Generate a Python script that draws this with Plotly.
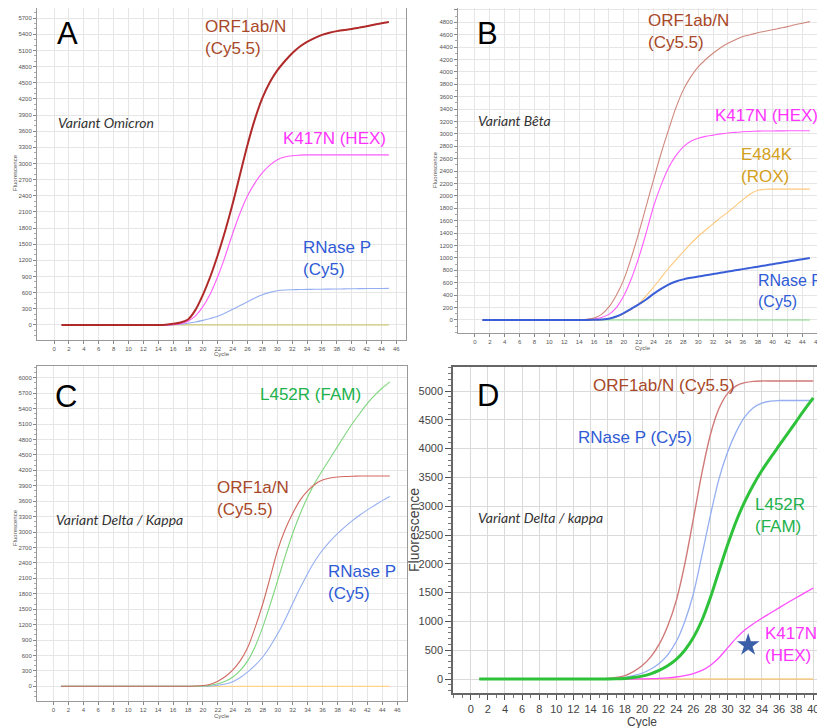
import plotly.graph_objects as go

# page body has an 8px margin: figure is placed at (8, 8)
OFF = 8
W, H = 825 - OFF, 728 - OFF

# ---------------- data ----------------
cyc45 = list(range(1, 46))
cyc40 = list(range(1, 41))

# Panel A - Variant Omicron
A_orf = [0,0,0,0,0,0,0,0,0,0,0,0,0,0,5,20,45,100,280,560,900,1300,1750,2250,2800,3350,3830,4220,4510,4730,4900,5050,5170,5260,5330,5390,5430,5460,5480,5500,5525,5550,5580,5605,5630]
A_k417n = [0,0,0,0,0,0,0,0,0,0,0,0,0,0,0,5,25,70,170,340,580,900,1280,1700,2080,2400,2640,2830,2970,3070,3120,3145,3155,3160,3160,3160,3160,3160,3160,3160,3160,3160,3160,3160,3160]
A_rnase = [0,0,0,0,0,0,0,0,0,0,0,0,0,0,0,5,15,30,55,85,120,160,220,290,360,430,500,560,605,635,650,655,658,660,662,664,666,668,670,672,674,676,677,678,680]
A_flat = [0,0,0,0,0,0,0,0,0,0,0,0,0,0,0,0,0,0,0,0,0,0,0,0,0,0,0,0,0,0,0,0,0,0,0,0,0,0,0,0,0,0,0,0,0]

# Panel B - Variant Beta
B_orf = [0,0,0,0,0,0,0,0,0,0,0,0,0,5,12,30,90,210,400,650,1000,1400,1830,2260,2680,3060,3420,3710,3920,4080,4200,4300,4390,4460,4520,4570,4600,4630,4655,4680,4705,4730,4760,4785,4810]
B_k417n = [0,0,0,0,0,0,0,0,0,0,0,0,0,0,5,15,40,90,200,390,660,1000,1400,1830,2170,2450,2650,2790,2880,2930,2960,2980,3000,3015,3025,3035,3040,3045,3047,3048,3049,3050,3050,3050,3050]
B_e484k = [0,0,0,0,0,0,0,0,0,0,0,0,0,0,0,0,0,20,50,100,170,260,390,530,680,830,970,1100,1230,1350,1450,1550,1650,1740,1840,1940,2030,2090,2108,2110,2110,2110,2110,2110,2110]
B_rnase = [0,0,0,0,0,0,0,0,0,0,0,0,0,0,0,3,8,20,55,110,180,250,330,420,500,570,620,655,680,700,720,740,760,780,800,820,840,860,880,900,920,940,960,980,1000]
B_flat = [0,0,0,0,0,0,0,0,0,0,0,0,0,0,0,0,0,0,0,0,0,0,0,0,0,0,0,0,0,0,0,0,0,0,0,0,0,0,0,0,0,0,0,0,0]

# Panel C - Variant Delta / Kappa
C_orf = [0,0,0,0,0,0,0,0,0,0,0,0,0,0,0,0,0,0,5,15,40,100,190,320,500,760,1150,1600,2120,2650,3050,3360,3620,3800,3930,4010,4050,4070,4080,4085,4088,4090,4090,4090,4090]
C_l452r = [0,0,0,0,0,0,0,0,0,0,0,0,0,0,0,0,0,0,0,5,20,50,100,180,310,500,780,1150,1590,2060,2530,2970,3350,3680,3960,4200,4430,4660,4890,5110,5310,5500,5660,5800,5920]
C_rnase = [0,0,0,0,0,0,0,0,0,0,0,0,0,0,0,0,0,0,0,0,5,20,45,90,170,280,410,570,780,1020,1300,1610,1910,2190,2440,2650,2820,2970,3100,3220,3330,3430,3520,3610,3690]
C_flat = [0,0,0,0,0,0,0,0,0,0,0,0,0,0,0,0,0,0,0,0,0,0,0,0,0,0,0,0,0,0,0,0,0,0,0,0,0,0,0,0,0,0,0,0,0]

# Panel D - Variant Delta / kappa
D_orf = [0,0,0,0,0,0,0,0,0,0,0,0,0,0,3,10,25,60,130,230,380,600,920,1360,2000,2780,3580,4250,4700,4960,5090,5145,5168,5175,5175,5175,5175,5175,5175,5175]
D_rnase = [0,0,0,0,0,0,0,0,0,0,0,0,0,0,0,4,12,30,60,100,170,270,420,650,1000,1480,2150,2850,3480,3940,4290,4550,4710,4790,4825,4835,4835,4835,4835,4835]
D_l452r = [0,0,0,0,0,0,0,0,0,0,0,0,0,0,0,0,3,10,25,50,90,150,230,340,500,720,1020,1420,1880,2330,2740,3080,3370,3620,3840,4050,4260,4470,4680,4880]
D_k417n = [0,0,0,0,0,0,0,0,0,0,0,0,0,0,0,0,0,0,0,2,5,10,20,35,60,95,150,240,370,540,710,850,960,1055,1145,1235,1325,1410,1495,1580]
D_flat = [0,0,0,0,0,0,0,0,0,0,0,0,0,0,0,0,0,0,0,0,0,0,0,0,0,0,0,0,0,0,0,0,0,0,0,0,0,0,0,0]
D_star_x = [32.4]
D_star_y = [590]

A_yticks = list(range(0, 5701, 300))
B_yticks = list(range(0, 5001, 200))
C_yticks = list(range(0, 6001, 300))
D_yticks = list(range(0, 5001, 500))
ABC_xticks = list(range(0, 47, 2))
D_xticks = list(range(0, 41, 2))

# ---------------- helpers (reference pixel -> paper) ----------------
def PX(p):
    return (p - OFF) / W

def PY(p):
    return 1 - (p - OFF) / H

def clamp(v):
    return max(0.0, min(1.0, v))

def xdom(a, b):
    return [clamp(PX(a)), clamp(PX(b))]

def ydom(top, bottom):
    return [clamp(PY(bottom)), clamp(PY(top))]

# ---------------- figure ----------------
fig = go.Figure()

def line(x, y, color, width, xa, ya):
    fig.add_trace(go.Scatter(x=x, y=y, mode="lines",
                             line=dict(color=color, width=width, shape="spline", smoothing=0.9),
                             xaxis=xa, yaxis=ya, showlegend=False, hoverinfo="skip"))

# A
line(cyc45, A_flat, "#CFC878", 1.2, "x", "y")
line(cyc45, A_rnase, "#94AEF2", 1.1, "x", "y")
line(cyc45, A_k417n, "#FF5CFF", 1.1, "x", "y")
line(cyc45, A_orf, "#B02A2A", 2.0, "x", "y")
# B
line(cyc45, B_flat, "#86D886", 1.1, "x2", "y2")
line(cyc45, B_e484k, "#FFC77A", 1.1, "x2", "y2")
line(cyc45, B_k417n, "#FF5CFF", 1.1, "x2", "y2")
line(cyc45, B_orf, "#D0877C", 1.1, "x2", "y2")
line(cyc45, B_rnase, "#3A5ED8", 2.0, "x2", "y2")
# C
line(cyc45, C_flat, "#FFD28E", 1.3, "x3", "y3")
line(cyc45, C_rnase, "#94AEF2", 1.1, "x3", "y3")
line(cyc45, C_l452r, "#7ED67E", 1.1, "x3", "y3")
line(cyc45, C_orf, "#D06A60", 1.1, "x3", "y3")
# D
line(cyc40, D_flat, "#FFB84D", 1.2, "x4", "y4")
line(cyc40, D_k417n, "#FF4CFF", 1.3, "x4", "y4")
line(cyc40, D_rnase, "#94AEF2", 1.3, "x4", "y4")
line(cyc40, D_orf, "#D07A78", 1.4, "x4", "y4")
line(cyc40, D_l452r, "#2DC23A", 3.0, "x4", "y4")
fig.add_trace(go.Scatter(x=D_star_x, y=D_star_y, mode="markers",
                         marker=dict(symbol="star", size=17, color="#3A5FA8", line=dict(width=0)),
                         xaxis="x4", yaxis="y4", showlegend=False, hoverinfo="skip"))

small_font = dict(family="Liberation Sans, Arial", size=6, color="#555")

def small_x(dom, rng):
    return dict(domain=dom, range=rng, tickvals=ABC_xticks, ticks="outside", ticklen=3, tickcolor="#888",
                tickfont=small_font, showline=True, linecolor="#999", linewidth=1, mirror=True,
                showgrid=True, gridcolor="#E6E6E6", gridwidth=1, zeroline=False, fixedrange=True,
                automargin=False)

def small_y(dom, rng, tv, minor_dt):
    return dict(domain=dom, range=rng, tickvals=tv, ticks="outside", ticklen=3, tickcolor="#888",
                tickfont=small_font, showline=True, linecolor="#999", linewidth=1, mirror=True,
                showgrid=True, gridcolor="#E6E6E6", gridwidth=1, zeroline=False, fixedrange=True,
                automargin=False,
                minor=dict(ticks="outside", ticklen=2, tickcolor="#AAA", dtick=minor_dt, showgrid=False))

A_xr, A_yr = [-2.3, 47.3], [-280, 5890]
B_xr, B_yr = [-2.28, 47.04], [-210, 5030]
C_xr, C_yr = [-2.2, 47.3], [-286, 6228]
D_xr, D_yr = [-2.07, 41.37], [-243, 5417]

fig.update_layout(
    template="none",
    width=W, height=H, margin=dict(l=0, r=0, t=0, b=0, pad=0), autosize=False,
    paper_bgcolor="white", plot_bgcolor="white", showlegend=False,
    xaxis=small_x(xdom(37, 406), A_xr),
    yaxis=small_y(ydom(8, 340), A_yr, A_yticks, 100),
    xaxis2=dict(small_x(xdom(458, 825), B_xr), anchor="y2"),
    yaxis2=dict(small_y(ydom(8, 333), B_yr, B_yticks, 100), anchor="x2"),
    xaxis3=dict(small_x(xdom(37, 407), C_xr), anchor="y3"),
    yaxis3=dict(small_y(ydom(366, 701), C_yr, C_yticks, 100), anchor="x3"),
    xaxis4=dict(domain=xdom(453, 825), range=D_xr, anchor="y4", tickvals=D_xticks,
                ticks="outside", ticklen=5, tickcolor="#555",
                tickfont=dict(family="Liberation Sans, Arial", size=11, color="#444"),
                showline=True, linecolor="#666", linewidth=1.5, mirror=True, showgrid=True, gridcolor="#DADADA",
                zeroline=False, fixedrange=True, automargin=False,
                minor=dict(ticks="outside", ticklen=3, tickcolor="#777", dtick=1, showgrid=False)),
    yaxis4=dict(domain=ydom(367, 693), range=D_yr, anchor="x4", tickvals=D_yticks,
                ticks="outside", ticklen=6, tickcolor="#555",
                tickfont=dict(family="Liberation Sans, Arial", size=11, color="#444"),
                showline=True, linecolor="#666", linewidth=1.5, mirror=True, showgrid=True, gridcolor="#DADADA",
                zeroline=False, fixedrange=True, automargin=False,
                minor=dict(ticks="outside", ticklen=3, tickcolor="#777", dtick=100, showgrid=False)),
)

# white boxes behind the panel letters (fractions of each plot area, converted to data units)
boxes = [("x", "y", A_xr, A_yr, 0.144, 0.15), ("x2", "y2", B_xr, B_yr, 0.147, 0.153),
         ("x3", "y3", C_xr, C_yr, 0.143, 0.16), ("x4", "y4", D_xr, D_yr, 0.153, 0.156)]
for xa, ya, xr, yr, fw, fh in boxes:
    fig.add_shape(type="rect", xref=xa, yref=ya,
                  x0=xr[0] + 0.003 * (xr[1] - xr[0]), x1=xr[0] + fw * (xr[1] - xr[0]),
                  y0=yr[1] - fh * (yr[1] - yr[0]), y1=yr[1] - 0.004 * (yr[1] - yr[0]),
                  fillcolor="white", line=dict(width=0), layer="below")

def ann(text, x, y, size, color, family="Liberation Sans, Arial", xanchor="left", italic=False, angle=0):
    if italic:
        text = "<i>" + text + "</i>"
    fig.add_annotation(text=text, xref="paper", yref="paper", x=PX(x), y=PY(y), showarrow=False,
                       xanchor=xanchor, yanchor="middle", align="left", textangle=angle,
                       borderpad=0, font=dict(family=family, size=size, color=color))

ORF = "#A84828"
HEX = "#FF33FF"
CY5 = "#2F5BD6"
ROX = "#D4A020"
FAM = "#22B24C"
VAR = "#333333"
VARF = "Lato, Open Sans"

# Panel letters
ann("A", 56, 34, 31, "black")
ann("B", 476, 34, 31, "black")
ann("C", 54, 396, 31, "black")
ann("D", 476, 395, 31, "black")

# Panel A labels
ann("ORF1ab/N<br>(Cy5.5)", 204, 38, 17, ORF)
ann("Variant Omicron", 57, 123, 14, VAR, family=VARF, italic=True)
ann("K417N (HEX)", 282, 138, 17, HEX)
ann("RNase P<br>(Cy5)", 302, 258, 17, CY5)

# Panel B labels
ann("ORF1ab/N<br>(Cy5.5)", 647, 32, 17, ORF)
ann("Variant Bêta", 477, 120, 14, VAR, family=VARF, italic=True)
ann("K417N (HEX)", 714, 115, 17, HEX)
ann("E484K<br>(ROX)", 740, 165, 17, ROX)
ann("RNase P<br>(Cy5)", 757, 291, 16, CY5)

# Panel C labels
ann("L452R (FAM)", 259, 394, 17, FAM)
ann("ORF1a/N<br>(Cy5.5)", 216, 498, 17, ORF)
ann("Variant Delta / Kappa", 55, 519, 14, VAR, family=VARF, italic=True)
ann("RNase P<br>(Cy5)", 327, 582, 17, CY5)

# Panel D labels
ann("ORF1ab/N (Cy5.5)", 592, 385, 17, ORF)
ann("RNase P (Cy5)", 577, 437, 17, CY5)
ann("Variant Delta / kappa", 477, 517, 14, VAR, family=VARF, italic=True)
ann("L452R<br>(FAM)", 754, 515, 17, FAM)
ann("K417N<br>(HEX)", 764, 644, 17, HEX)

# Axis titles
ann("Fluorescence", 15, 173, 6, "#555", xanchor="center", angle=-90)
ann("Cycle", 222, 354, 6, "#555", xanchor="center")
ann("Fluorescence", 435, 170, 6, "#555", xanchor="center", angle=-90)
ann("Cycle", 643, 348, 6, "#555", xanchor="center")
ann("Fluorescence", 15, 528, 6, "#555", xanchor="center", angle=-90)
ann("Cycle", 222, 716, 6, "#555", xanchor="center")
ann("Fluorescence", 414, 530, 14, "#444", xanchor="center", angle=-90)
ann("Cycle", 642, 722, 12, "#444", xanchor="center")

fig.write_html("out.html")
